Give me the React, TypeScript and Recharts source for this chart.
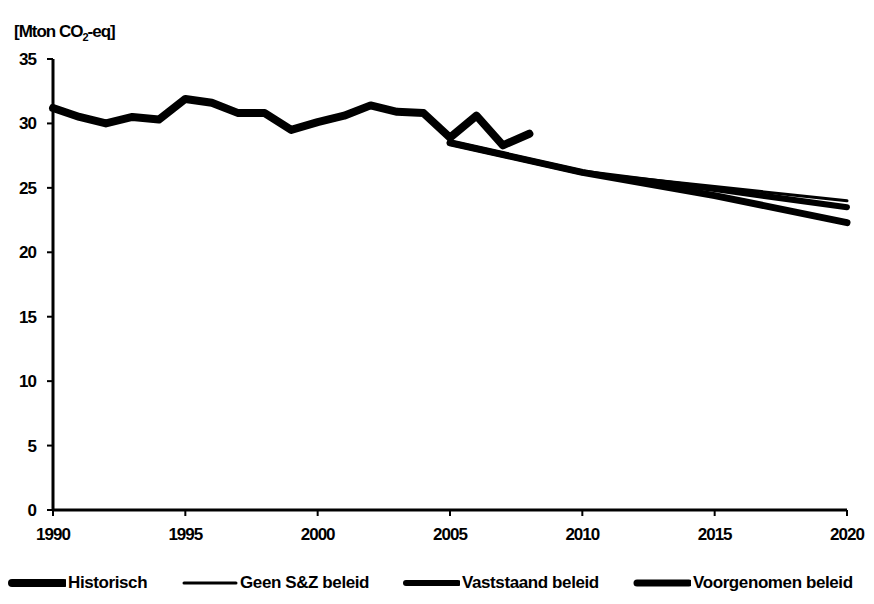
import React from 'react';
import { LineChart, Line, XAxis, YAxis, Legend } from 'recharts';

// years shown on the axis
const years = Array.from({ length: 31 }, (_, i) => 1990 + i);
const xTicks = [1990, 1995, 2000, 2005, 2010, 2015, 2020];
const yTicks = [0, 5, 10, 15, 20, 25, 30, 35];

// historic emissions 1990-2008
const histYears = [1990, 1991, 1992, 1993, 1994, 1995, 1996, 1997, 1998, 1999, 2000, 2001, 2002, 2003, 2004, 2005, 2006, 2007, 2008];
const historisch = [31.2, 30.5, 30.0, 30.5, 30.3, 31.9, 31.6, 30.8, 30.8, 29.5, 30.1, 30.6, 31.4, 30.9, 30.8, 28.9, 30.6, 28.3, 29.2];

// projections
const projYears = [2005, 2010, 2015, 2020];
const geenBeleid = [28.5, 26.2, 25.1, 24.0];
const vaststaandBeleid = [28.5, 26.2, 24.9, 23.5];
const voorgenomenBeleid = [28.5, 26.2, 24.4, 22.3];

const data = years.map((year) => {
  const h = histYears.indexOf(year);
  const p = projYears.indexOf(year);
  return {
    year,
    historisch: h >= 0 ? historisch[h] : null,
    geen: p >= 0 ? geenBeleid[p] : null,
    vaststaand: p >= 0 ? vaststaandBeleid[p] : null,
    voorgenomen: p >= 0 ? voorgenomenBeleid[p] : null,
  };
});

const font = '"Liberation Sans", Arial, sans-serif';

const legendItems = [
  { label: 'Historisch', width: 8, left: 8 },
  { label: 'Geen S&Z beleid', width: 3, left: 180 },
  { label: 'Vaststaand beleid', width: 6, left: 402 },
  { label: 'Voorgenomen beleid', width: 7, left: 633 },
];

const renderLegend = () => (
  <div style={{ position: 'relative', height: 20, fontFamily: font, fontWeight: 'bold', fontSize: 17, letterSpacing: -0.4 }}>
    {legendItems.map((it) => (
      <div key={it.label} style={{ position: 'absolute', left: it.left, top: 0, display: 'flex', alignItems: 'center', whiteSpace: 'nowrap' }}>
        <svg width={58} height={10} style={{ marginRight: 2 }}>
          <line x1={4} x2={56} y1={5} y2={5} stroke="#000" strokeWidth={it.width} strokeLinecap="round" />
        </svg>
        <span>{it.label}</span>
      </div>
    ))}
  </div>
);

export default function App() {
  return (
    <div style={{ position: 'absolute', left: 0, top: 0, width: 874, height: 604, background: '#fff' }}>
      <div style={{ position: 'absolute', left: 14, top: 22, fontFamily: font, fontWeight: 'bold', fontSize: 17, letterSpacing: -1 }}>
        [Mton CO<sub style={{ fontSize: 11 }}>2</sub>-eq]
      </div>
      <LineChart width={874} height={604} data={data} margin={{ top: 59, right: 27, bottom: 34, left: 0 }}>
        <XAxis
          dataKey="year"
          type="number"
          domain={[1990, 2020]}
          ticks={xTicks}
          axisLine={{ stroke: '#000', strokeWidth: 3 }}
          tickLine={{ stroke: '#000', strokeWidth: 2 }}
          tickSize={6}
          tick={{ fill: '#000', fontSize: 17, fontWeight: 'bold', fontFamily: font, letterSpacing: -1 }}
          tickMargin={12}
          height={40}
        />
        <YAxis
          domain={[0, 35]}
          ticks={yTicks}
          width={53}
          axisLine={{ stroke: '#000', strokeWidth: 3 }}
          tickLine={{ stroke: '#000', strokeWidth: 2 }}
          tickSize={6}
          tick={{ fill: '#000', fontSize: 17, fontWeight: 'bold', fontFamily: font, letterSpacing: -1 }}
          tickMargin={11}
        />
        <Legend content={renderLegend} height={20} wrapperStyle={{ left: 0, top: 573, width: 874, height: 20 }} />
        <Line type="linear" dataKey="voorgenomen" stroke="#000" strokeWidth={7} dot={false} connectNulls isAnimationActive={false} strokeLinecap="round" strokeLinejoin="round" />
        <Line type="linear" dataKey="vaststaand" stroke="#000" strokeWidth={6} dot={false} connectNulls isAnimationActive={false} strokeLinecap="round" strokeLinejoin="round" />
        <Line type="linear" dataKey="geen" stroke="#000" strokeWidth={3} dot={false} connectNulls isAnimationActive={false} strokeLinecap="round" strokeLinejoin="round" />
        <Line type="linear" dataKey="historisch" stroke="#000" strokeWidth={8} dot={false} isAnimationActive={false} strokeLinecap="round" strokeLinejoin="round" />
      </LineChart>
    </div>
  );
}
